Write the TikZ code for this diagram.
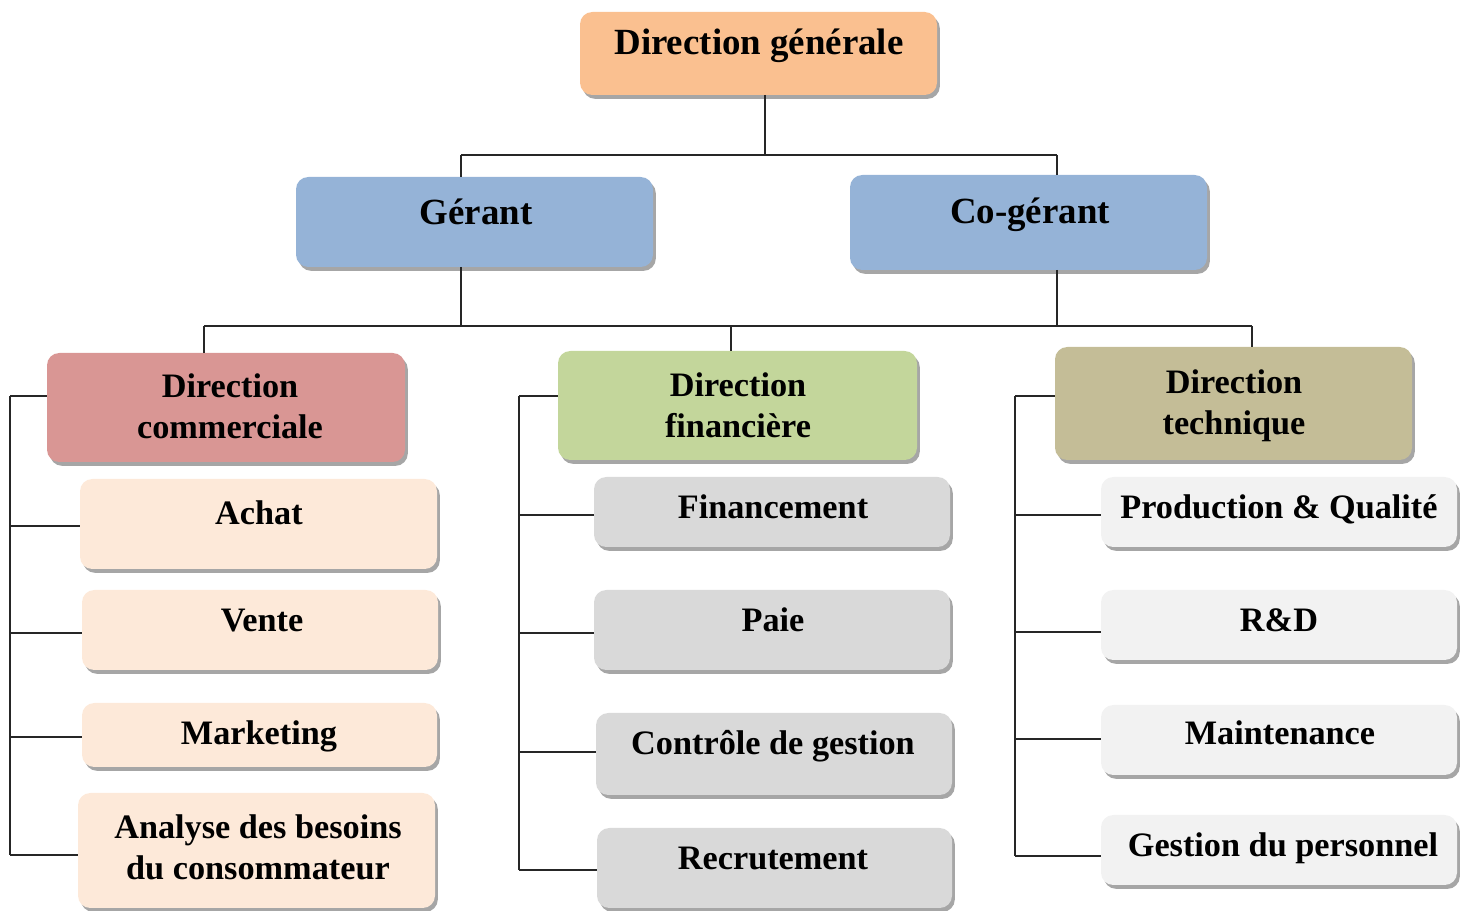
\documentclass[tikz,border=0pt]{standalone}
\usepackage{fontspec}
\setmainfont{Liberation Serif}
\usetikzlibrary{fit,shadows}
\definecolor{cPeach}{HTML}{FAC090}
\definecolor{cBlue}{HTML}{95B3D7}
\definecolor{cRed}{HTML}{D99694}
\definecolor{cGreen}{HTML}{C3D69B}
\definecolor{cTan}{HTML}{C4BD97}
\definecolor{cLPeach}{HTML}{FDE9D9}
\definecolor{cGray}{HTML}{D9D9D9}
\definecolor{cLGray}{HTML}{F2F2F2}
\newcommand\obox[6]{\node[orgbox, fill=#6, fit={(#2,#3) (#4,#5)}] (#1) {};}
\tikzset{
  orgbox/.style={rounded corners=7pt, inner sep=0pt, draw=none,
    drop shadow={shadow xshift=1.6pt, shadow yshift=-2.2pt, fill=black, opacity=0.35}},
  headtxt/.style={font=\fontsize{21}{25}\selectfont\bfseries, inner sep=0pt, anchor=base},
  dirtxt/.style={font=\fontsize{19.5}{23.8}\selectfont\bfseries, inner sep=0pt, anchor=north, align=center},
  subtxt/.style={font=\fontsize{19.5}{23.8}\selectfont\bfseries, inner sep=0pt, anchor=base, align=center},
  conn/.style={line width=1.1pt, draw=black!85}
}
\begin{document}
\begin{tikzpicture}[x=0.02cm, y=-0.02cm]
\useasboundingbox (0,0) rectangle (1465,911);
% boxes
\obox{dg}{580}{12}{937}{95}{cPeach}
\obox{ger}{296}{177}{653}{267}{cBlue}
\obox{coger}{850}{175}{1207}{270}{cBlue}
\obox{dcom}{47}{353}{405}{462}{cRed}
\obox{dfin}{558}{351}{917}{460}{cGreen}
\obox{dtec}{1055}{347}{1412}{460}{cTan}
\obox{achat}{80}{479}{437}{569}{cLPeach}
\obox{vente}{82}{590}{438}{670}{cLPeach}
\obox{mkt}{82}{703}{437}{767}{cLPeach}
\obox{anal}{78}{793}{435}{908}{cLPeach}
\obox{fina}{594}{477}{950}{547}{cGray}
\obox{paie}{594}{590}{950}{670}{cGray}
\obox{ctrl}{596}{713}{952}{795}{cGray}
\obox{recr}{597}{828}{952}{908}{cGray}
\obox{prod}{1101}{477}{1457}{547}{cLGray}
\obox{rd}{1101}{590}{1457}{660}{cLGray}
\obox{maint}{1101}{705}{1457}{775}{cLGray}
\obox{gpers}{1101}{815}{1457}{885}{cLGray}
% texts
\node[headtxt] (t-dg) at (759,55) {Direction générale};
\node[headtxt] (t-ger) at (476,225) {Gérant};
\node[headtxt] (t-coger) at (1030,224) {Co-gérant};
\node[dirtxt] (t-dcom) at (230,373) {Direction\\commerciale};
\node[dirtxt] (t-dfin) at (738,372) {Direction\\financière};
\node[dirtxt] (t-dtec) at (1234,369) {Direction\\technique};
\node[subtxt] (t-achat) at (259,525) {Achat};
\node[subtxt] (t-vente) at (262,632) {Vente};
\node[subtxt] (t-mkt) at (259,745) {Marketing};
\node[dirtxt] (t-anal) at (258,814) {Analyse des besoins\\du consommateur};
\node[subtxt] (t-fina) at (773,519) {Financement};
\node[subtxt] (t-paie) at (773,632) {Paie};
\node[subtxt] (t-ctrl) at (773,755) {Contrôle de gestion};
\node[subtxt] (t-recr) at (773,870) {Recrutement};
\node[subtxt] (t-prod) at (1279,519) {Production \& Qualité};
\node[subtxt] (t-rd) at (1279,632) {R\&D};
\node[subtxt] (t-maint) at (1280,745) {Maintenance};
\node[subtxt] (t-gpers) at (1283,857) {Gestion du personnel};
% bus coordinates
\coordinate (dgb) at (765,95);
\coordinate (bus1) at (765,155);
\coordinate (bus1l) at (461,155);
\coordinate (bus1r) at (1057,155);
\coordinate (gert) at (461,177);
\coordinate (cogert) at (1057,175);
\coordinate (gerb) at (461,267);
\coordinate (cogerb) at (1057,270);
\coordinate (g2) at (461,326);
\coordinate (cg2) at (1057,326);
\coordinate (bus2l) at (204,326);
\coordinate (bus2m) at (731,326);
\coordinate (bus2r) at (1252,326);
\coordinate (dcomt) at (204,353);
\coordinate (dfint) at (731,351);
\coordinate (dtect) at (1252,347);
% connectors top
\draw[conn] (dgb) -- (bus1);
\draw[conn] (bus1l) -- (bus1r);
\draw[conn] (bus1l) -- (gert);
\draw[conn] (bus1r) -- (cogert);
\draw[conn] (gerb) -- (g2);
\draw[conn] (cogerb) -- (cg2);
\draw[conn] (bus2l) -- (bus2r);
\draw[conn] (bus2l) -- (dcomt);
\draw[conn] (bus2m) -- (dfint);
\draw[conn] (bus2r) -- (dtect);
% left column
\coordinate (lc0) at (10,396);
\coordinate (lc4) at (10,855);
\draw[conn] (lc0) -- (lc4);
\draw[conn] (lc0) -- (dcom.west |- lc0);
\coordinate (lc1) at (10,526);
\coordinate (lc2) at (10,633);
\coordinate (lc3) at (10,737);
\draw[conn] (lc1) -- (achat.west |- lc1);
\draw[conn] (lc2) -- (vente.west |- lc2);
\draw[conn] (lc3) -- (mkt.west |- lc3);
\draw[conn] (lc4) -- (anal.west |- lc4);
% middle column
\coordinate (mc0) at (519,396);
\coordinate (mc1) at (519,515);
\coordinate (mc2) at (519,633);
\coordinate (mc3) at (519,752);
\coordinate (mc4) at (519,870);
\draw[conn] (mc0) -- (mc4);
\draw[conn] (mc0) -- (dfin.west |- mc0);
\draw[conn] (mc1) -- (fina.west |- mc1);
\draw[conn] (mc2) -- (paie.west |- mc2);
\draw[conn] (mc3) -- (ctrl.west |- mc3);
\draw[conn] (mc4) -- (recr.west |- mc4);
% right column
\coordinate (rc0) at (1015,396);
\coordinate (rc1) at (1015,515);
\coordinate (rc2) at (1015,632);
\coordinate (rc3) at (1015,739);
\coordinate (rc4) at (1015,856);
\draw[conn] (rc0) -- (rc4);
\draw[conn] (rc0) -- (dtec.west |- rc0);
\draw[conn] (rc1) -- (prod.west |- rc1);
\draw[conn] (rc2) -- (rd.west |- rc2);
\draw[conn] (rc3) -- (maint.west |- rc3);
\draw[conn] (rc4) -- (gpers.west |- rc4);
\end{tikzpicture}
\end{document}
